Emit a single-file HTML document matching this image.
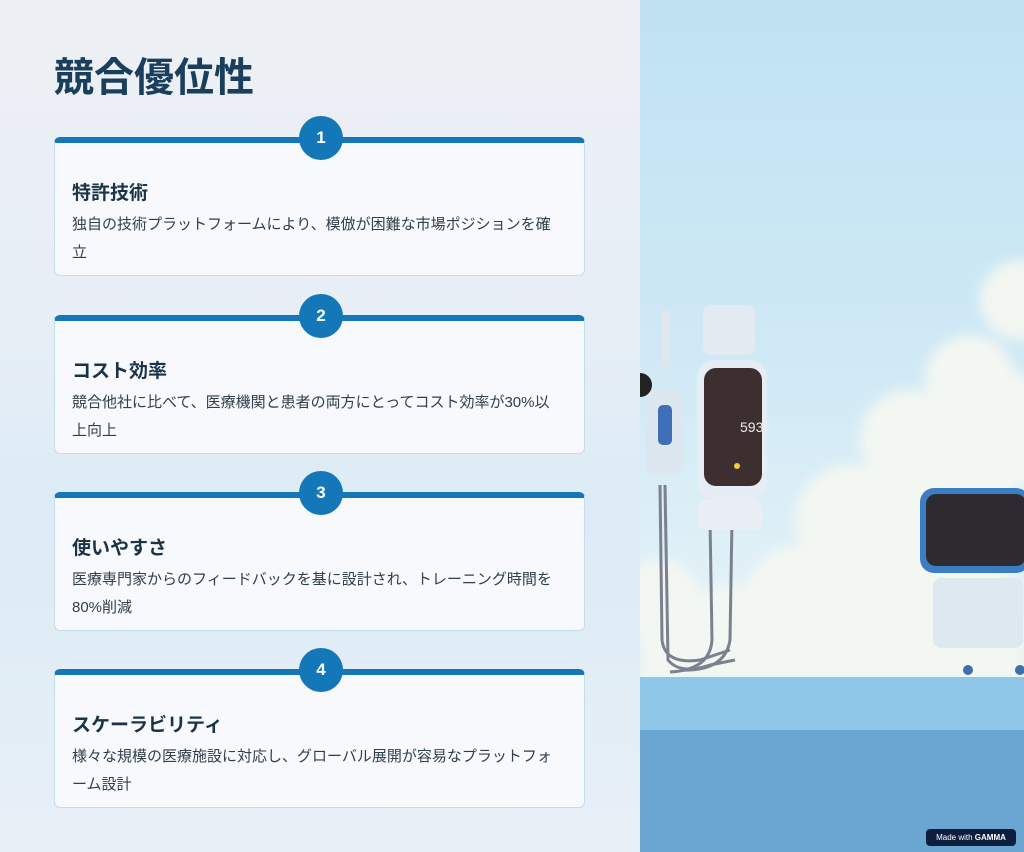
<!DOCTYPE html>
<html><head><meta charset="utf-8"><style>
*{margin:0;padding:0;box-sizing:border-box}
body{width:1024px;height:852px;overflow:hidden;position:relative;font-family:"Liberation Sans","Noto Sans CJK JP",sans-serif;background:linear-gradient(180deg,#eef0f5 0%,#e6eef6 40%,#dcebf6 60%,#e8f0f7 100%)}
h1{position:absolute;left:54px;top:45px;font-size:40px;font-weight:700;color:#1a3f5c}
.card{position:absolute;left:54px;width:531px;height:139px;background:#f7f9fc;border:1px solid #c5dcea;border-top:6px solid #1478b8;border-radius:6px}
.num{position:absolute;left:244px;top:-27px;width:44px;height:44px;border-radius:50%;background:#1478b8;color:#fff;font-weight:700;font-size:17px;text-align:center;line-height:44px}
.t{position:absolute;left:17px;top:35px;font-size:19px;font-weight:700;color:#1a3347}
.d{position:absolute;left:17px;top:68px;width:486px;font-size:15px;line-height:28px;color:#2f3f4c}
.r{position:absolute;left:640px;top:0;width:384px;height:852px;background:linear-gradient(180deg,#bfe2f3 0%,#cfe9f5 40%,#e2f1f7 70%);overflow:hidden}
</style></head><body>
<h1>競合優位性</h1>
<div class="card" style="top:137px"><div class="num">1</div><div class="t">特許技術</div><div class="d">独自の技術プラットフォームにより、模倣が困難な市場ポジションを確立</div></div>
<div class="card" style="top:315px"><div class="num">2</div><div class="t">コスト効率</div><div class="d">競合他社に比べて、医療機関と患者の両方にとってコスト効率が30%以上向上</div></div>
<div class="card" style="top:492px"><div class="num">3</div><div class="t">使いやすさ</div><div class="d">医療専門家からのフィードバックを基に設計され、トレーニング時間を80%削減</div></div>
<div class="card" style="top:669px"><div class="num">4</div><div class="t">スケーラビリティ</div><div class="d">様々な規模の医療施設に対応し、グローバル展開が容易なプラットフォーム設計</div></div>
<div class="r">
<svg width="384" height="852">
<defs><filter id="b"><feGaussianBlur stdDeviation="6"/></filter></defs>
<g fill="#f3f7f2" filter="url(#b)">
<circle cx="380" cy="300" r="40"/><circle cx="330" cy="380" r="45"/><circle cx="270" cy="440" r="50"/><circle cx="360" cy="430" r="60"/><circle cx="210" cy="520" r="55"/><circle cx="310" cy="530" r="75"/><circle cx="160" cy="600" r="55"/><circle cx="250" cy="620" r="60"/><circle cx="90" cy="630" r="45"/><circle cx="20" cy="600" r="40"/><rect x="0" y="620" width="384" height="60"/>
</g>
<rect x="0" y="677" width="384" height="55" fill="#8ec7e7"/>
<rect x="0" y="730" width="384" height="122" fill="#6ba5d2"/>
<path d="M20 485 L22 640 Q25 665 60 660 L90 650" stroke="#7c8190" stroke-width="3" fill="none"/>
<path d="M25 485 L28 660 Q40 675 70 665 L95 660" stroke="#7c8190" stroke-width="3" fill="none"/>
<path d="M70 520 L72 640 Q70 670 30 672" stroke="#7c8190" stroke-width="3" fill="none"/>
<path d="M92 520 L90 640 Q85 672 40 670" stroke="#7c8190" stroke-width="3" fill="none"/>
<rect x="22" y="310" width="8" height="60" fill="#dfe6ee"/>
<rect x="6" y="390" width="38" height="85" rx="8" fill="#dde7f0"/>
<rect x="18" y="405" width="14" height="40" rx="5" fill="#3f6fb8"/>
<circle cx="0" cy="385" r="12" fill="#222"/>
<rect x="63" y="305" width="52" height="50" rx="8" fill="#e3ebf2"/>
<rect x="57" y="360" width="70" height="140" rx="18" fill="#e6edf4"/>
<rect x="64" y="368" width="58" height="118" rx="12" fill="#3d2f30"/>
<text x="100" y="432" fill="#eee" font-size="14" font-family="Liberation Sans">593</text>
<circle cx="97" cy="466" r="3" fill="#f2cc40"/>
<rect x="58" y="500" width="64" height="30" rx="6" fill="#e8eef4"/>
<rect x="280" y="488" width="110" height="85" rx="14" fill="#3d7dc4"/>
<rect x="286" y="494" width="100" height="72" rx="10" fill="#2e2b30"/>
<rect x="293" y="578" width="90" height="70" rx="8" fill="#dde8f1"/>
<circle cx="328" cy="670" r="5" fill="#3e6fa8"/><circle cx="380" cy="670" r="5" fill="#3e6fa8"/>
</svg>
</div>
<div style="position:absolute;left:926px;top:829px;width:90px;height:17px;border-radius:4px;background:#0e1f3e;color:#fff;font-size:8px;line-height:17px;text-align:center">Made with <b>GAMMA</b></div>
</body></html>
